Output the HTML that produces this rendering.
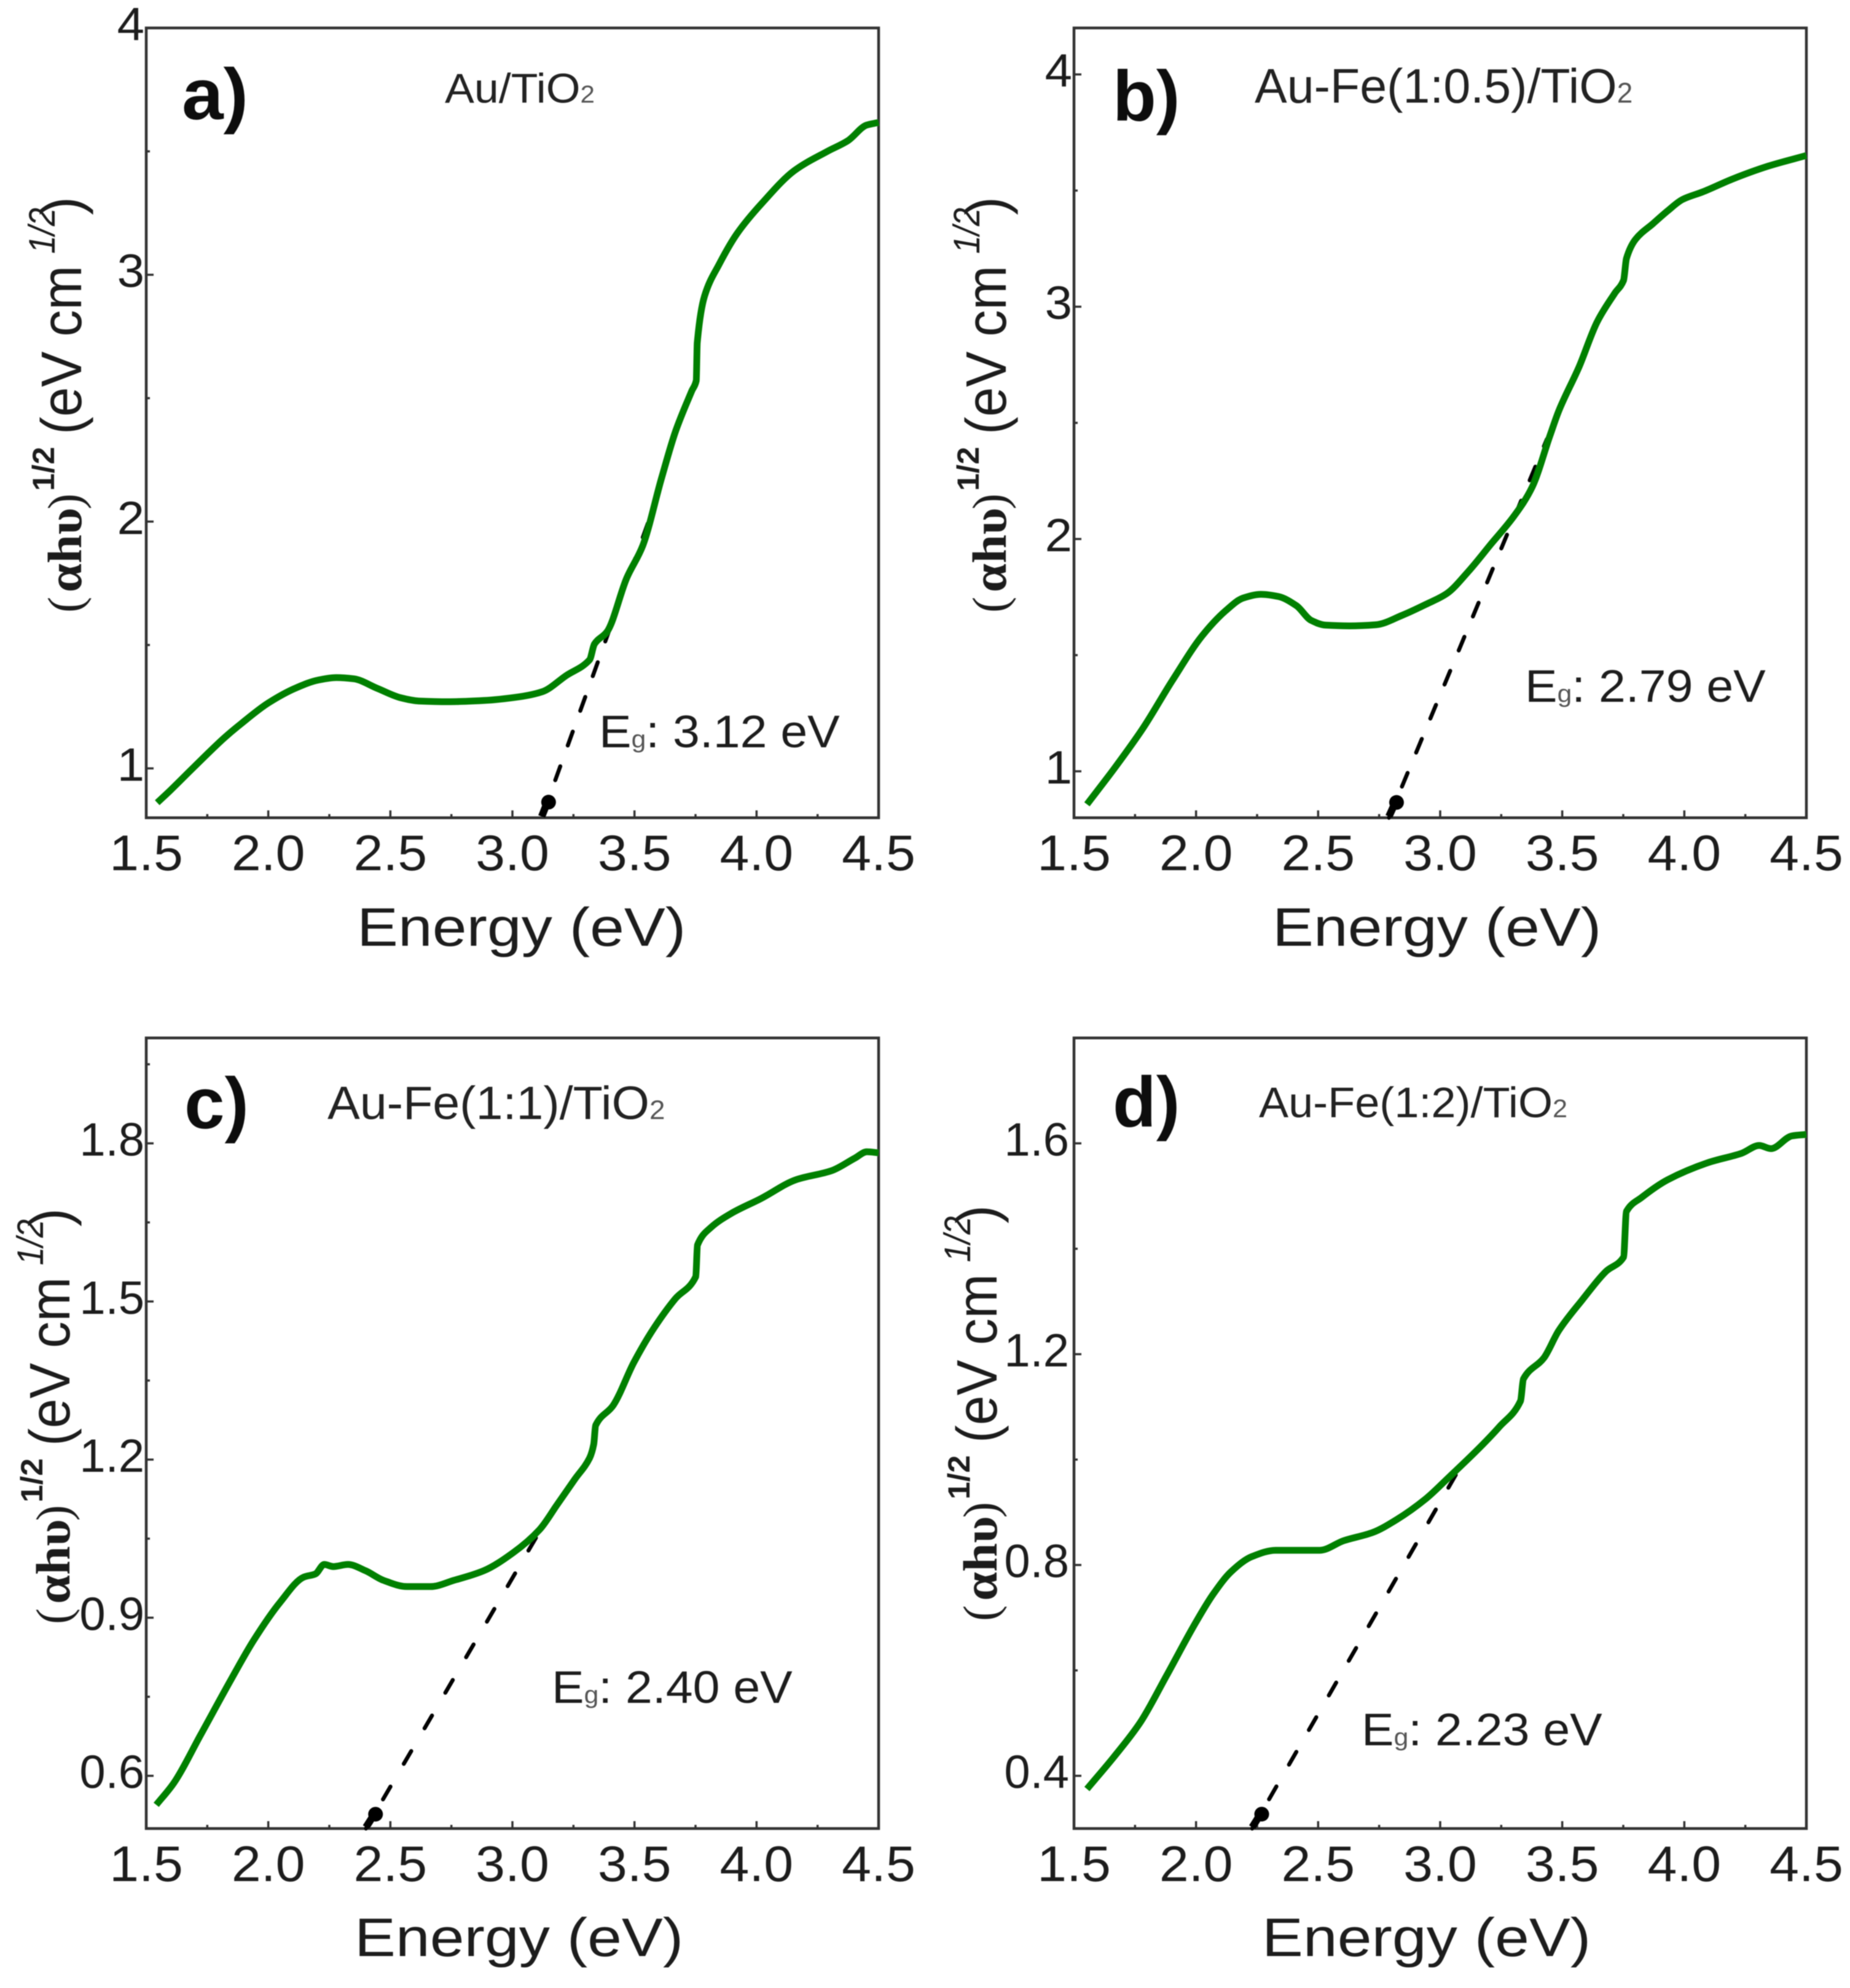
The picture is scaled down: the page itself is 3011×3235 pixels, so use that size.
<!DOCTYPE html>
<html lang="en">
<head>
<meta charset="utf-8">
<title>Tauc plots of Au and Au-Fe on TiO2</title>
<style>
html,body{margin:0;padding:0;background:#fff;width:3011px;height:3235px;overflow:hidden}
svg{display:block}
text{font-family:"Liberation Sans",sans-serif;fill:#1c1c1c}
.serif{font-family:"Liberation Serif",serif}
.ptitle{fill:#222}
.sub{fill:#555}
</style>
</head>
<body>
<svg id="figure" xmlns="http://www.w3.org/2000/svg" width="3011" height="3235" viewBox="0 0 3011 3235">
<defs><filter id="soft" x="-2%" y="-2%" width="104%" height="104%"><feGaussianBlur stdDeviation="0.9"/></filter></defs>
<rect width="3011" height="3235" fill="#fff"/>
<g id="root" filter="url(#soft)">
<g id="marks"></g>

<!-- Panel a text -->
<text font-weight="bold" font-size="118" transform="translate(296,194) scale(1.03,1)" style="fill:#111">a)</text>
<text class="ptitle" font-size="68" transform="translate(724,167) scale(1.055,1)">Au/TiO<tspan class="sub" font-size="40">2</tspan></text>
<text font-size="74" transform="translate(975,1216) scale(1.065,1)">E<tspan class="sub" font-size="40">g</tspan>: 3.12 eV</text>
<text font-size="88" transform="translate(581,1539) scale(1.14,1)">Energy (eV)</text>
<g transform="translate(132,994) rotate(-90)">
<text class="serif" x="-3" font-size="78" textLength="26" lengthAdjust="spacingAndGlyphs">(</text>
<text class="serif" x="30" font-size="78" font-weight="bold" textLength="138" lengthAdjust="spacingAndGlyphs">αhυ</text>
<text class="serif" x="165" font-size="78" textLength="26" lengthAdjust="spacingAndGlyphs">)</text>
<text x="195" y="-44" font-size="50" font-weight="bold" textLength="72" lengthAdjust="spacingAndGlyphs">1/2</text>
<text x="287" font-size="93" textLength="275" lengthAdjust="spacingAndGlyphs">(eV cm</text>
<text x="581" y="-43" font-size="60" font-style="italic" textLength="75" lengthAdjust="spacingAndGlyphs">1/2</text>
<text x="644" font-size="93" textLength="30" lengthAdjust="spacingAndGlyphs">)</text>
</g>

<!-- Panel b text -->
<text font-weight="bold" font-size="116" transform="translate(1811,196)" style="fill:#111">b)</text>
<text class="ptitle" font-size="79" transform="translate(2042,167)">Au-Fe(1:0.5)/TiO<tspan class="sub" font-size="46">2</tspan></text>
<text font-size="74" transform="translate(2482,1142) scale(1.065,1)">E<tspan class="sub" font-size="40">g</tspan>: 2.79 eV</text>
<text font-size="88" transform="translate(2071,1539) scale(1.14,1)">Energy (eV)</text>
<g transform="translate(1637,994) rotate(-90)">
<text class="serif" x="-3" font-size="78" textLength="26" lengthAdjust="spacingAndGlyphs">(</text>
<text class="serif" x="30" font-size="78" font-weight="bold" textLength="138" lengthAdjust="spacingAndGlyphs">αhυ</text>
<text class="serif" x="165" font-size="78" textLength="26" lengthAdjust="spacingAndGlyphs">)</text>
<text x="195" y="-44" font-size="50" font-weight="bold" textLength="72" lengthAdjust="spacingAndGlyphs">1/2</text>
<text x="287" font-size="93" textLength="275" lengthAdjust="spacingAndGlyphs">(eV cm</text>
<text x="581" y="-43" font-size="60" font-style="italic" textLength="75" lengthAdjust="spacingAndGlyphs">1/2</text>
<text x="644" font-size="93" textLength="30" lengthAdjust="spacingAndGlyphs">)</text>
</g>

<!-- Panel c text -->
<text font-weight="bold" font-size="118" transform="translate(300,1836)" style="fill:#111">c)</text>
<text class="ptitle" font-size="76" transform="translate(533,1821) scale(1.04,1)">Au-Fe(1:1)/TiO<tspan class="sub" font-size="44">2</tspan></text>
<text font-size="74" transform="translate(898,2771) scale(1.065,1)">E<tspan class="sub" font-size="40">g</tspan>: 2.40 eV</text>
<text font-size="88" transform="translate(577,3183) scale(1.14,1)">Energy (eV)</text>
<g transform="translate(113,2640) rotate(-90)">
<text class="serif" x="-3" font-size="78" textLength="26" lengthAdjust="spacingAndGlyphs">(</text>
<text class="serif" x="30" font-size="78" font-weight="bold" textLength="138" lengthAdjust="spacingAndGlyphs">αhυ</text>
<text class="serif" x="165" font-size="78" textLength="26" lengthAdjust="spacingAndGlyphs">)</text>
<text x="195" y="-44" font-size="50" font-weight="bold" textLength="72" lengthAdjust="spacingAndGlyphs">1/2</text>
<text x="287" font-size="93" textLength="275" lengthAdjust="spacingAndGlyphs">(eV cm</text>
<text x="581" y="-43" font-size="60" font-style="italic" textLength="75" lengthAdjust="spacingAndGlyphs">1/2</text>
<text x="644" font-size="93" textLength="30" lengthAdjust="spacingAndGlyphs">)</text>
</g>

<!-- Panel d text -->
<text font-weight="bold" font-size="116" transform="translate(1811,1833)" style="fill:#111">d)</text>
<text class="ptitle" font-size="70" transform="translate(2049,1818) scale(1.03,1)">Au-Fe(1:2)/TiO<tspan class="sub" font-size="42">2</tspan></text>
<text font-size="74" transform="translate(2216,2840) scale(1.065,1)">E<tspan class="sub" font-size="40">g</tspan>: 2.23 eV</text>
<text font-size="88" transform="translate(2054,3183) scale(1.14,1)">Energy (eV)</text>
<g transform="translate(1622,2635) rotate(-90)">
<text class="serif" x="-3" font-size="78" textLength="26" lengthAdjust="spacingAndGlyphs">(</text>
<text class="serif" x="30" font-size="78" font-weight="bold" textLength="138" lengthAdjust="spacingAndGlyphs">αhυ</text>
<text class="serif" x="165" font-size="78" textLength="26" lengthAdjust="spacingAndGlyphs">)</text>
<text x="195" y="-44" font-size="50" font-weight="bold" textLength="72" lengthAdjust="spacingAndGlyphs">1/2</text>
<text x="287" font-size="93" textLength="275" lengthAdjust="spacingAndGlyphs">(eV cm</text>
<text x="581" y="-43" font-size="60" font-style="italic" textLength="75" lengthAdjust="spacingAndGlyphs">1/2</text>
<text x="644" font-size="93" textLength="30" lengthAdjust="spacingAndGlyphs">)</text>
</g>
</g>
</svg>
<script>
const xTickLabels = ['1.5','2.0','2.5','3.0','3.5','4.0','4.5'];
const xMinorTicks = [1.75,2.25,2.75,3.25,3.75,4.25];

const yTickLabelsA = ['1','2','3','4'];
const yMinorTicksA = [1.5,2.5,3.5];
const yTickLabelsB = ['1','2','3','4'];
const yMinorTicksB = [1.5,2.5,3.5];
const yTickLabelsC = ['0.6','0.9','1.2','1.5','1.8'];
const yMinorTicksC = [0.75,1.05,1.35,1.65,1.95];
const yTickLabelsD = ['0.4','0.8','1.2','1.6'];
const yMinorTicksD = [0.6,1.0,1.4];

const energyA = [1.545,1.601,1.698,1.819,1.891,2.0,2.109,2.205,2.278,2.35,2.447,2.543,2.616,2.737,2.882,3.027,3.123,3.22,3.316,3.336,3.389,3.468,3.534,3.611,3.669,3.735,3.753,3.757,3.787,3.846,3.921,4.022,4.155,4.29,4.374,4.45,4.5];
const valuesA = [0.861,0.913,1.008,1.123,1.183,1.265,1.324,1.358,1.368,1.363,1.324,1.286,1.273,1.27,1.275,1.29,1.311,1.376,1.44,1.504,1.556,1.771,1.903,2.177,2.368,2.53,2.571,2.724,2.914,3.041,3.168,3.29,3.422,3.5,3.543,3.606,3.617];

const energyB = [1.553,1.662,1.783,1.903,2.024,2.121,2.193,2.266,2.338,2.411,2.471,2.531,2.628,2.737,2.845,2.942,3.027,3.111,3.208,3.304,3.377,3.449,3.486,3.57,3.643,3.715,3.751,3.763,3.8,3.872,3.932,3.993,4.077,4.198,4.343,4.5];
const valuesB = [0.858,1.008,1.186,1.391,1.582,1.691,1.746,1.762,1.752,1.713,1.65,1.629,1.626,1.631,1.672,1.719,1.765,1.855,1.978,2.101,2.224,2.443,2.552,2.744,2.935,3.058,3.113,3.208,3.29,3.358,3.413,3.462,3.495,3.55,3.605,3.651];

const energyC = [1.541,1.614,1.722,1.843,1.94,2.048,2.145,2.193,2.229,2.266,2.326,2.399,2.471,2.568,2.664,2.761,2.882,3.002,3.111,3.184,3.256,3.316,3.333,3.341,3.413,3.498,3.582,3.667,3.751,3.758,3.812,3.896,4.017,4.162,4.307,4.403,4.452,4.5];
const valuesC = [0.545,0.587,0.677,0.779,0.857,0.929,0.977,0.983,1.001,0.997,1.001,0.989,0.971,0.959,0.959,0.971,0.989,1.023,1.067,1.115,1.163,1.203,1.229,1.265,1.303,1.385,1.451,1.505,1.547,1.607,1.64,1.667,1.695,1.731,1.748,1.772,1.784,1.782];

const energyD = [1.553,1.662,1.771,1.879,2.0,2.072,2.145,2.229,2.326,2.507,2.604,2.725,2.821,2.942,3.039,3.147,3.244,3.329,3.341,3.425,3.486,3.582,3.679,3.751,3.763,3.824,3.932,4.101,4.234,4.307,4.355,4.44,4.5];
const valuesD = [0.375,0.435,0.501,0.59,0.692,0.746,0.788,0.816,0.828,0.828,0.846,0.862,0.886,0.926,0.968,1.016,1.063,1.111,1.153,1.193,1.245,1.303,1.357,1.384,1.471,1.497,1.531,1.564,1.581,1.596,1.59,1.614,1.617];

const tangentEnergyA = [3.12,3.601];
const tangentValueA = [0.8,2.12];
const tangentEnergyB = [2.79,3.437];
const tangentValueB = [0.8,2.43];
const tangentEnergyC = [2.40,3.17];
const tangentValueC = [0.5,1.11];
const tangentEnergyD = [2.23,3.075];
const tangentValueD = [0.3,0.98];

const NS = 'http://www.w3.org/2000/svg';
const marks = document.getElementById('marks');

function make(tag, attrs, parent) {
  const el = document.createElementNS(NS, tag);
  for (const k in attrs) el.setAttribute(k, attrs[k]);
  parent.appendChild(el);
  return el;
}

/* Monotone cubic path through pixel points, so jumps do not overshoot. */
function smoothPath(px, py) {
  const n = px.length;
  const d = [], m = [];
  for (let i = 0; i < n - 1; i++) d.push((py[i+1] - py[i]) / (px[i+1] - px[i]));
  m.push(d[0]);
  for (let i = 1; i < n - 1; i++) {
    m.push(d[i-1] * d[i] <= 0 ? 0 : 2 * d[i-1] * d[i] / (d[i-1] + d[i]));
  }
  m.push(d[n-2]);
  let s = 'M' + px[0].toFixed(1) + ' ' + py[0].toFixed(1);
  for (let i = 0; i < n - 1; i++) {
    const h = (px[i+1] - px[i]) / 3;
    s += 'C' + (px[i] + h).toFixed(1) + ' ' + (py[i] + m[i] * h).toFixed(1) + ' ' +
         (px[i+1] - h).toFixed(1) + ' ' + (py[i+1] - m[i+1] * h).toFixed(1) + ' ' +
         px[i+1].toFixed(1) + ' ' + py[i+1].toFixed(1);
  }
  return s;
}

function drawPanel(p) {
  const xScale = v => p.left + (v - 1.5) / 3 * (p.right - p.left);
  const yScale = v => p.bottom - (v - p.yMin) / (p.yMax - p.yMin) * (p.bottom - p.top);

  const g = make('g', {}, marks);
  
  

  const frame = make('rect', {x:p.left, y:p.top, width:p.right-p.left, height:p.bottom-p.top, fill:'none', stroke:'#333', 'stroke-width':4.5}, g);
  
  

  xTickLabels.forEach(label => {
    const v = parseFloat(label);
    const tick = make('line', {x1:xScale(v), x2:xScale(v), y1:p.bottom, y2:p.bottom-12, stroke:'#333', 'stroke-width':3.5}, g);
    
    
    const t = make('text', {'font-size':82, 'text-anchor':'middle', transform:'translate(' + xScale(v) + ',' + p.xLabelY + ') scale(1.05,1)'}, g);
    t.textContent = label;
    
    
  });
  xMinorTicks.forEach(v => {
    const tick = make('line', {x1:xScale(v), x2:xScale(v), y1:p.bottom, y2:p.bottom-6, stroke:'#333', 'stroke-width':3.5}, g);
    
    
  });

  p.yLabels.forEach(label => {
    const v = parseFloat(label);
    const tick = make('line', {x1:p.left, x2:p.left+12, y1:yScale(v), y2:yScale(v), stroke:'#333', 'stroke-width':3.5}, g);
    
    
    const t = make('text', {'font-size':p.yFont, 'text-anchor':'end', transform:'translate(' + (p.left-p.yGap) + ',' + (yScale(v)+20) + ') scale(' + p.ySx + ',1)'}, g);
    t.textContent = label;
    
    
  });
  p.yMinor.forEach(v => {
    const tick = make('line', {x1:p.left, x2:p.left+6, y1:yScale(v), y2:yScale(v), stroke:'#333', 'stroke-width':3.5}, g);
    
    
  });

  const x0 = xScale(p.tanX[0]), y0 = yScale(p.tanY[0]);
  const x1 = xScale(p.tanX[1]), y1 = yScale(p.tanY[1]);
  const tangent = make('line', {x1:x0, y1:y0, x2:x1, y2:y1, stroke:'#000', 'stroke-width':6.5, 'stroke-linecap':'round', 'stroke-dasharray':'24 ' + (p.dashPeriod - 24), 'stroke-dashoffset':-p.dashStart}, g);
  
  

  const len = Math.hypot(x1 - x0, y1 - y0);
  const blob = make('circle', {cx:x0 + (x1-x0)*27/len + 2, cy:y0 + (y1-y0)*27/len, r:12, fill:'#000'}, g);
  
  
  const stub = make('line', {x1:x0, y1:y0 - 2, x2:x0 + (x1-x0)*27/len, y2:y0 + (y1-y0)*27/len, stroke:'#000', 'stroke-width':12}, g);
  
  

  const curve = make('path', {d:smoothPath(p.energy.map(xScale), p.values.map(yScale)), fill:'none', stroke:'#008000', 'stroke-width':11, 'stroke-linejoin':'round', 'stroke-linecap':'butt'}, g);
  
  
}

drawPanel({id:'a', left:238, right:1430, top:45.5, bottom:1330.7, yMin:0.8, yMax:4.0, xLabelY:1416, yLabels:yTickLabelsA, yMinor:yMinorTicksA, yFont:76, ySx:1.05, yGap:3, dashPeriod:60, dashStart:65, energy:energyA, values:valuesA, tanX:tangentEnergyA, tanY:tangentValueA});
drawPanel({id:'b', left:1748, right:2940, top:45.5, bottom:1330.7, yMin:0.8, yMax:4.2, xLabelY:1416, yLabels:yTickLabelsB, yMinor:yMinorTicksB, yFont:76, ySx:1.05, yGap:3, dashPeriod:60, dashStart:55, energy:energyB, values:valuesB, tanX:tangentEnergyB, tanY:tangentValueB});
drawPanel({id:'c', left:238, right:1430, top:1689, bottom:2975.5, yMin:0.5, yMax:2.0, xLabelY:3061, yLabels:yTickLabelsC, yMinor:yMinorTicksC, yFont:76, ySx:1, yGap:3, dashPeriod:67, dashStart:55, energy:energyC, values:valuesC, tanX:tangentEnergyC, tanY:tangentValueC});
drawPanel({id:'d', left:1748, right:2940, top:1689, bottom:2975.5, yMin:0.3, yMax:1.8, xLabelY:3061, yLabels:yTickLabelsD, yMinor:yMinorTicksD, yFont:76, ySx:1, yGap:8, dashPeriod:65, dashStart:55, energy:energyD, values:valuesD, tanX:tangentEnergyD, tanY:tangentValueD});
</script>
</body>
</html>
